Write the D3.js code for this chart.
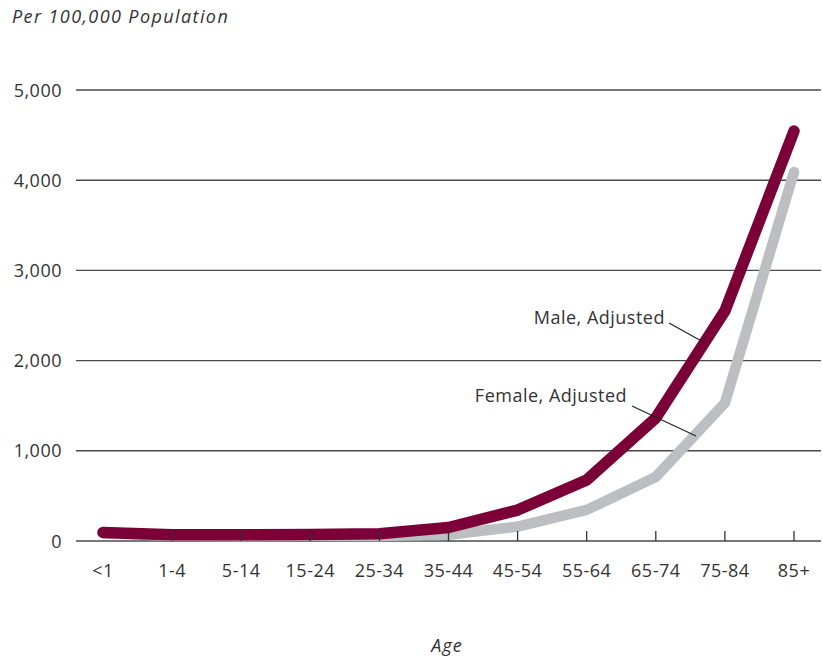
<!DOCTYPE html>
<html>
<head>
<meta charset="utf-8">
<script src="https://cdn.jsdelivr.net/npm/d3@7"></script>
<style>
  html, body { margin: 0; padding: 0; background: #fff; }
  svg { display: block; }
  text { font-family: "Open Sans", sans-serif; fill: #333; }
</style>
</head>
<body>
<svg id="chart" width="822" height="660"></svg>
<script>
const categories = ["<1", "1-4", "5-14", "15-24", "25-34", "35-44", "45-54", "55-64", "65-74", "75-84", "85+"];
const maleAdjusted = [95, 70, 70, 72, 80, 150, 343, 676, 1364, 2550, 4545];
const femaleAdjusted = [85, 58, 55, 58, 55, 70, 160, 345, 710, 1530, 4090];
const yTicks = [0, 1000, 2000, 3000, 4000, 5000];
const yLabel = "Per 100,000 Population";
const xLabel = "Age";
const seriesLabels = ["Male, Adjusted", "Female, Adjusted"];

const svg = d3.select("#chart");
const x = d3.scalePoint().domain(categories).range([103, 794]);
const y = d3.scaleLinear().domain([0, 5000]).range([541, 90]);
const gridLeft = 76, gridRight = 821;
const fs = 18, ls = "0.5px";

// gridlines
svg.append("g").selectAll("line").data(yTicks).join("line")
  .attr("x1", gridLeft).attr("x2", gridRight)
  .attr("y1", d => y(d)).attr("y2", d => y(d))
  .attr("stroke", "#4a4a4a").attr("stroke-width", 1.4);

// y labels
svg.append("g").selectAll("text").data(yTicks).join("text")
  .attr("x", 62).attr("y", d => y(d) + 6.5)
  .attr("text-anchor", "end")
  .attr("font-size", fs).attr("letter-spacing", ls)
  .text(d => d3.format(",")(d));

// lines
const line = d3.line().x((d, i) => x(categories[i])).y(d => y(d));
svg.append("path").datum(femaleAdjusted)
  .attr("d", line).attr("fill", "none")
  .attr("stroke", "#bdbec1").attr("stroke-width", 10.5)
  .attr("stroke-linecap", "round").attr("stroke-linejoin", "round");
svg.append("path").datum(maleAdjusted)
  .attr("d", line).attr("fill", "none")
  .attr("stroke", "#7a0037").attr("stroke-width", 11.5)
  .attr("stroke-linecap", "round").attr("stroke-linejoin", "round");

// x tick marks (on top)
svg.append("g").selectAll("line").data(categories.slice(1)).join("line")
  .attr("x1", d => x(d)).attr("x2", d => x(d))
  .attr("y1", y(0)).attr("y2", y(0) - 10)
  .attr("stroke", "#333").attr("stroke-width", 1.3);

// x labels
svg.append("g").selectAll("text").data(categories).join("text")
  .attr("x", d => x(d)).attr("y", 576.5)
  .attr("text-anchor", "middle")
  .attr("font-size", fs).attr("letter-spacing", ls)
  .text(d => d);

// axis titles
svg.append("text").attr("x", 12).attr("y", 23)
  .attr("font-style", "italic").attr("font-size", fs).attr("letter-spacing", "1.4px")
  .text(yLabel);
svg.append("text").attr("x", 447).attr("y", 652)
  .attr("text-anchor", "middle")
  .attr("font-style", "italic").attr("font-size", fs).attr("letter-spacing", "1px")
  .text(xLabel);

// series annotations
svg.append("text").attr("x", 665).attr("y", 324)
  .attr("text-anchor", "end").attr("font-size", fs).attr("letter-spacing", ls)
  .text(seriesLabels[0]);
svg.append("line").attr("x1", 669).attr("y1", 323).attr("x2", 705).attr("y2", 343)
  .attr("stroke", "#222").attr("stroke-width", 1.2);
svg.append("text").attr("x", 627).attr("y", 402)
  .attr("text-anchor", "end").attr("font-size", fs).attr("letter-spacing", ls)
  .text(seriesLabels[1]);
svg.append("line").attr("x1", 632).attr("y1", 406).attr("x2", 696).attr("y2", 436)
  .attr("stroke", "#222").attr("stroke-width", 1.2);
</script>
</body>
</html>
